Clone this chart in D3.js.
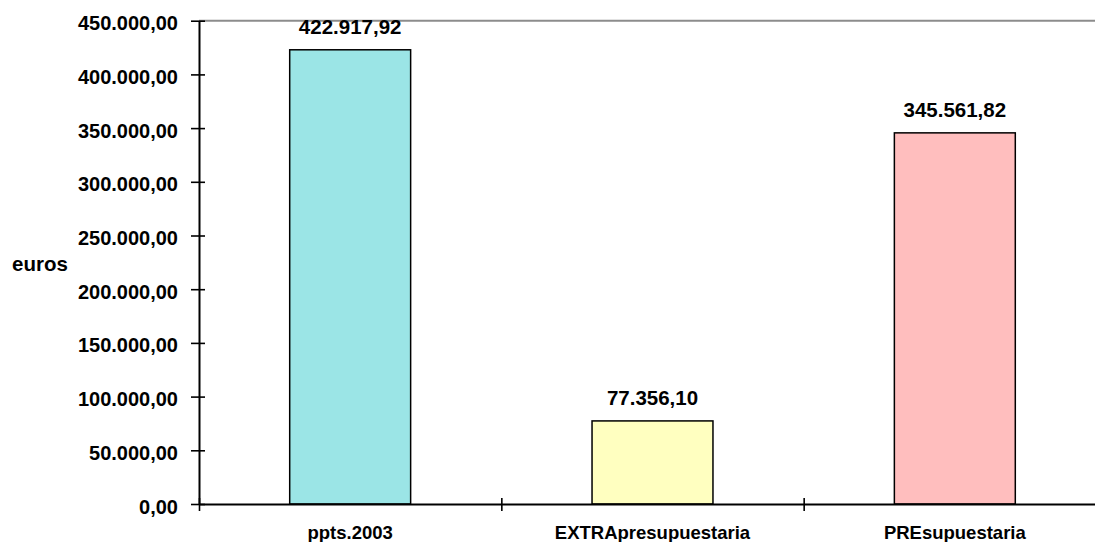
<!DOCTYPE html>
<html>
<head>
<meta charset="utf-8">
<script src="https://cdn.jsdelivr.net/npm/d3@7"></script>
<style>
  html, body { margin: 0; padding: 0; background: #fff; }
  svg { display: block; }
  text { font-family: Arial, "Liberation Sans", sans-serif; font-weight: bold; fill: #000; }
</style>
</head>
<body>
<svg id="chart" width="1095" height="542"></svg>
<script>
// Budget totals (euros)
const categories = ["ppts.2003", "EXTRApresupuestaria", "PREsupuestaria"];
const values = [422917.92, 77356.10, 345561.82];
const barColors = ["#9BE5E6", "#FFFFC0", "#FFBEBE"];
const yTicks = [0, 50000, 100000, 150000, 200000, 250000, 300000, 350000, 400000, 450000];
const yLabel = "euros";

const es = d3.formatLocale({ decimal: ",", thousands: ".", grouping: [3], currency: ["", " €"] });
const fmt = es.format(",.2f");

const svg = d3.select("#chart");
const plot = { left: 199, right: 1106, top: 20.7, bottom: 504 };

const x = d3.scaleBand()
  .domain(categories)
  .range([plot.left, plot.right])
  .paddingInner(0.6)
  .paddingOuter(0.3);

const y = d3.scaleLinear()
  .domain([0, 450000])
  .range([plot.bottom, plot.top]);

// top frame line of the plot area
svg.append("line")
  .attr("x1", plot.left).attr("x2", 1095)
  .attr("y1", y(450000)).attr("y2", y(450000))
  .attr("stroke", "#8c8c8c").attr("stroke-width", 2);

// bars
svg.append("g").selectAll("rect")
  .data(values)
  .join("rect")
  .attr("x", (d, i) => x(categories[i]))
  .attr("y", d => y(d))
  .attr("width", x.bandwidth())
  .attr("height", d => y(0) - y(d))
  .attr("fill", (d, i) => barColors[i])
  .attr("stroke", "#000")
  .attr("stroke-width", 1.5);

// value labels
svg.append("g").selectAll("text")
  .data(values)
  .join("text")
  .attr("x", (d, i) => x(categories[i]) + x.bandwidth() / 2)
  .attr("y", d => y(d) - 16)
  .attr("text-anchor", "middle")
  .style("font-size", "20.5px")
  .text(d => fmt(d));

// y axis
const yAxis = d3.axisLeft(y)
  .tickValues(yTicks)
  .tickFormat(fmt)
  .tickSizeInner(8)
  .tickSizeOuter(0)
  .tickPadding(13);

const gy = svg.append("g")
  .attr("transform", `translate(${plot.left},0)`)
  .call(yAxis);
gy.select(".domain").attr("stroke", "#000").attr("stroke-width", 2);
gy.selectAll(".tick line")
  .attr("x1", -8).attr("x2", 6)
  .attr("stroke", "#000").attr("stroke-width", 1.6);
gy.selectAll(".tick text")
  .attr("dy", "0.45em")
  .style("font-size", "20px")
  .style("font-family", "Arial, 'Liberation Sans', sans-serif")
  .style("font-weight", "bold");

// x axis: ticks at category boundaries
const boundaries = categories.map(c => x(c) - x.step() * x.paddingInner() / 2);
boundaries[0] = plot.left;
boundaries.push(plot.right);

const bx = d3.scaleLinear().domain([plot.left, plot.right]).range([plot.left, plot.right]);
const gx = svg.append("g")
  .attr("transform", `translate(0,${plot.bottom})`)
  .call(d3.axisBottom(bx).tickValues(boundaries).tickFormat("").tickSizeOuter(0).tickSizeInner(7));
gx.select(".domain").attr("stroke", "#000").attr("stroke-width", 2);
gx.selectAll(".tick line")
  .attr("y1", -6).attr("y2", 7)
  .attr("stroke", "#000").attr("stroke-width", 1.6);

// category labels
svg.append("g").selectAll("text")
  .data(categories)
  .join("text")
  .attr("x", d => x(d) + x.bandwidth() / 2)
  .attr("y", 539)
  .attr("text-anchor", "middle")
  .style("font-size", "18.5px")
  .text(d => d);

// axis title
svg.append("text")
  .attr("x", 12)
  .attr("y", 271)
  .style("font-size", "20.5px")
  .text(yLabel);
</script>
</body>
</html>
